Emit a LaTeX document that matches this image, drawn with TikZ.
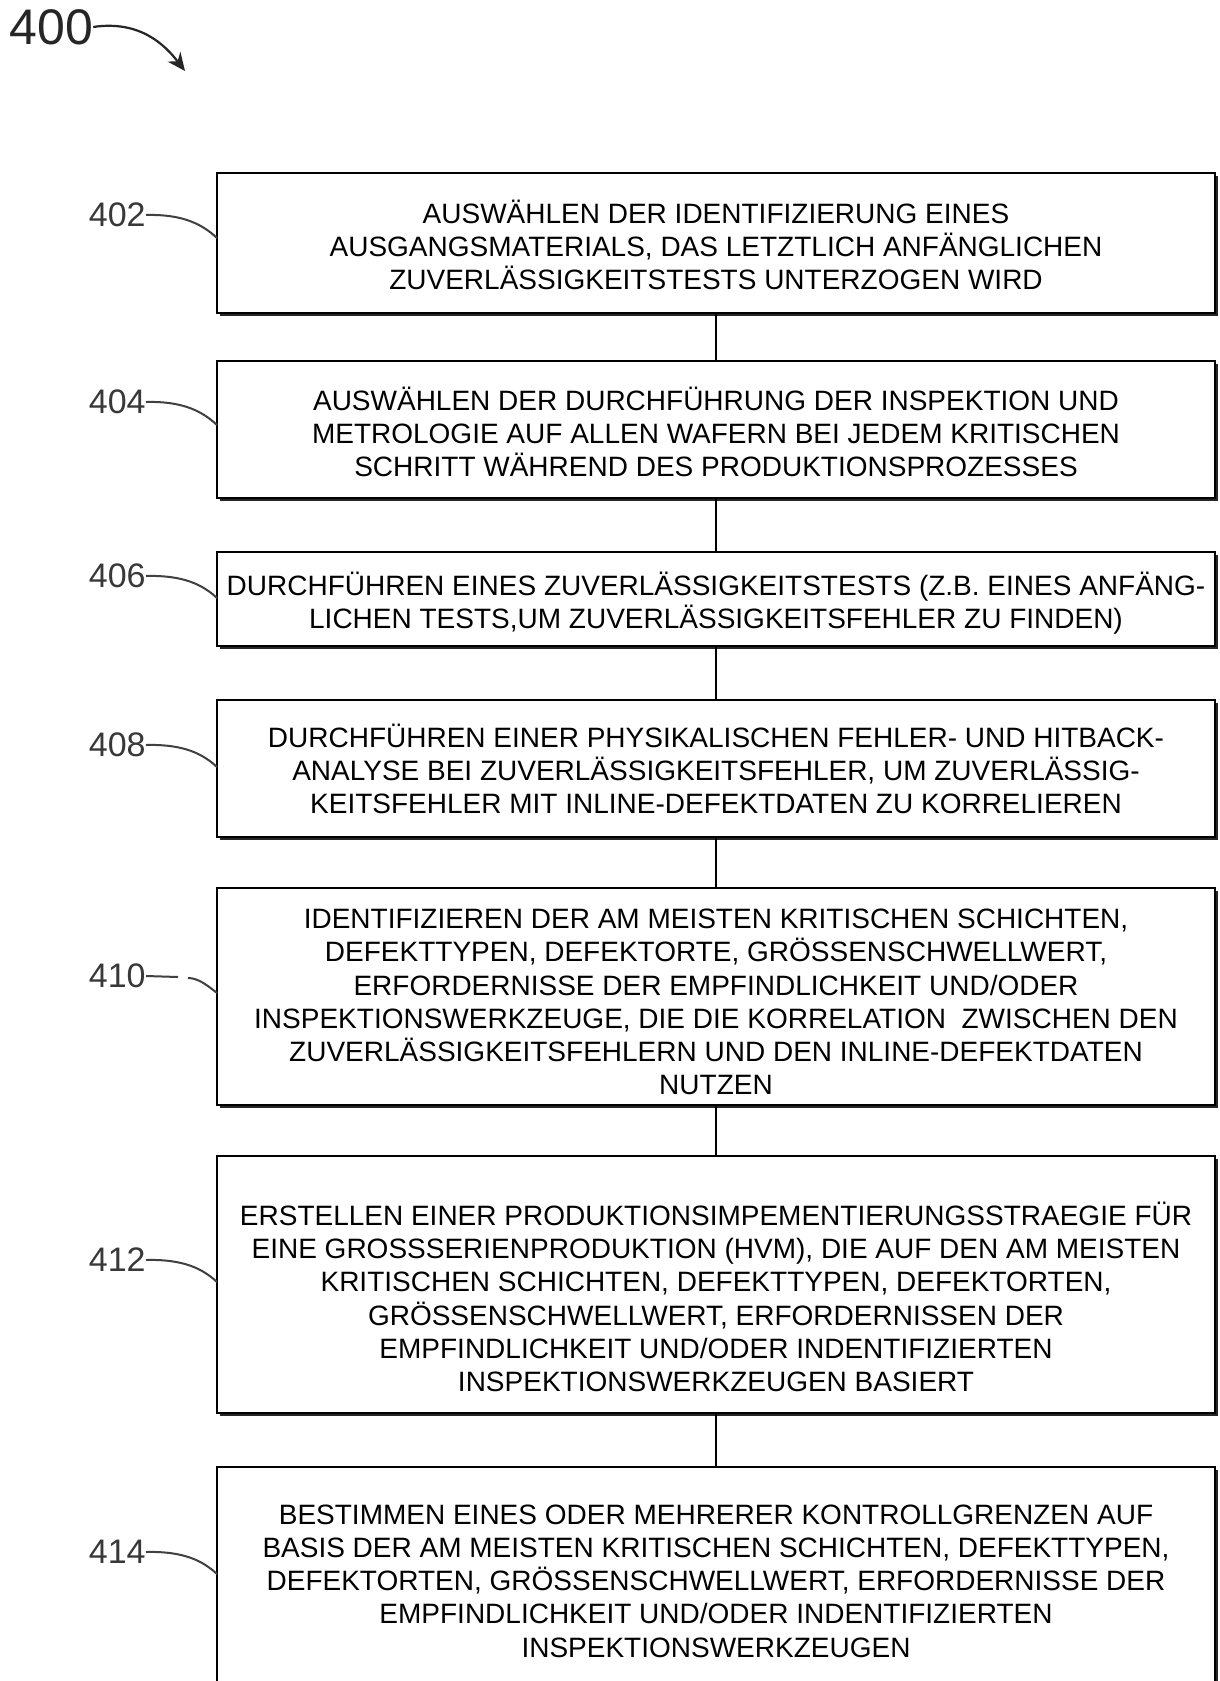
\documentclass[tikz,border=0pt]{standalone}
\usepackage{fontspec}
\setmainfont{Liberation Sans}
\usetikzlibrary{arrows.meta,shadows}
\begin{document}
\begin{tikzpicture}[x=0.5pt,y=-0.5pt,
  stepbox/.style={draw=black, line width=1.3pt, fill=white, rectangle, inner sep=0pt,
    minimum width=499pt,
    drop shadow={shadow xshift=1.6pt, shadow yshift=-1.6pt, opacity=0.85, fill=black}},
  steptext/.style={align=center, font=\fontsize{14pt}{16.6pt}\selectfont, inner sep=0pt},
  reflabel/.style={font=\fontsize{17pt}{19pt}\selectfont, text=black!78, anchor=east, inner sep=0pt},
  leader/.style={draw=black!75, line width=1pt},
  link/.style={draw=black, line width=1pt}]
\useasboundingbox (0,0) rectangle (1220,1681);
\clip (0,0) rectangle (1220,1681);
\fill[white] (0,0) rectangle (1220,1681);

% figure label
\node[font=\fontsize{25pt}{27pt}\selectfont, text=black!85, anchor=west, inner sep=0pt] (l400) at (9,27) {400};
\coordinate (e400) at (185,71);
\draw[draw=black!85, line width=1.1pt, -{Stealth[length=9pt,width=8pt]}] (l400.east) .. controls (140,20) and (165,45) .. (e400);

% boxes
\node[stepbox, minimum height=70pt]   (b402) at (716,243) {};
\node[stepbox, minimum height=68.5pt] (b404) at (716,429.5) {};
\node[stepbox, minimum height=47pt]   (b406) at (716,599) {};
\node[stepbox, minimum height=68.5pt] (b408) at (716,768.5) {};
\node[stepbox, minimum height=108.5pt] (b410) at (716,996.5) {};
\node[stepbox, minimum height=128.5pt] (b412) at (716,1284.5) {};
\node[stepbox, minimum height=156.5pt] (b414) at (716,1623.5) {};

% connectors
\draw[link] (b402.south) -- (b404.north);
\draw[link] (b404.south) -- (b406.north);
\draw[link] (b406.south) -- (b408.north);
\draw[link] (b408.south) -- (b410.north);
\draw[link] (b410.south) -- (b412.north);
\draw[link] (b412.south) -- (b414.north);

% texts
\node[steptext] (t402) at (716,245) {AUSWÄHLEN DER IDENTIFIZIERUNG EINES\\AUSGANGSMATERIALS, DAS LETZTLICH ANFÄNGLICHEN\\ZUVERLÄSSIGKEITSTESTS UNTERZOGEN WIRD};
\node[steptext] (t404) at (716,432) {AUSWÄHLEN DER DURCHFÜHRUNG DER INSPEKTION UND\\METROLOGIE AUF ALLEN WAFERN BEI JEDEM KRITISCHEN\\SCHRITT WÄHREND DES PRODUKTIONSPROZESSES};
\node[steptext] (t406) at (716,603) {DURCHFÜHREN EINES ZUVERLÄSSIGKEITSTESTS (Z.B. EINES ANFÄNG-\\LICHEN TESTS,UM ZUVERLÄSSIGKEITSFEHLER ZU FINDEN)};
\node[steptext] (t408) at (716,769) {DURCHFÜHREN EINER PHYSIKALISCHEN FEHLER- UND HITBACK-\\ANALYSE BEI ZUVERLÄSSIGKEITSFEHLER, UM ZUVERLÄSSIG-\\KEITSFEHLER MIT INLINE-DEFEKTDATEN ZU KORRELIEREN};
\node[steptext] (t410) at (716,1002) {IDENTIFIZIEREN DER AM MEISTEN KRITISCHEN SCHICHTEN,\\DEFEKTTYPEN, DEFEKTORTE, GRÖSSENSCHWELLWERT,\\ERFORDERNISSE DER EMPFINDLICHKEIT UND/ODER\\INSPEKTIONSWERKZEUGE, DIE DIE KORRELATION\ \ ZWISCHEN DEN\\ZUVERLÄSSIGKEITSFEHLERN UND DEN INLINE-DEFEKTDATEN\\NUTZEN};
\node[steptext] (t412) at (716,1297) {ERSTELLEN EINER PRODUKTIONSIMPEMENTIERUNGSSTRAEGIE FÜR\\EINE GROSSSERIENPRODUKTION (HVM), DIE AUF DEN AM MEISTEN\\KRITISCHEN SCHICHTEN, DEFEKTTYPEN, DEFEKTORTEN,\\GRÖSSENSCHWELLWERT, ERFORDERNISSEN DER\\EMPFINDLICHKEIT UND/ODER INDENTIFIZIERTEN\\INSPEKTIONSWERKZEUGEN BASIERT};
\node[steptext] (t414) at (716,1581) {BESTIMMEN EINES ODER MEHRERER KONTROLLGRENZEN AUF\\BASIS DER AM MEISTEN KRITISCHEN SCHICHTEN, DEFEKTTYPEN,\\DEFEKTORTEN, GRÖSSENSCHWELLWERT, ERFORDERNISSE DER\\EMPFINDLICHKEIT UND/ODER INDENTIFIZIERTEN\\INSPEKTIONSWERKZEUGEN};

% reference labels and leaders
\node[reflabel] (l402) at (146,215) {402};
\node[reflabel] (l404) at (146,402) {404};
\node[reflabel] (l406) at (146,576) {406};
\node[reflabel] (l408) at (146,745) {408};
\node[reflabel] (l410) at (146,976) {410};
\node[reflabel] (l412) at (146,1260) {412};
\node[reflabel] (l414) at (146,1552) {414};

\coordinate (e402) at (217,238);
\coordinate (e404) at (217,425);
\coordinate (e406) at (217,598);
\coordinate (e408) at (217,767);
\coordinate (e412) at (217,1282);
\coordinate (e414) at (217,1574);
\coordinate (g410a) at (178,977);
\coordinate (g410b) at (188,978);
\coordinate (e410) at (217,993);

\draw[leader] (l402.east) .. controls +(38,-1) and +(-14,-13) .. (e402);
\draw[leader] (l404.east) .. controls +(38,-1) and +(-14,-13) .. (e404);
\draw[leader] (l406.east) .. controls +(38,-1) and +(-14,-13) .. (e406);
\draw[leader] (l408.east) .. controls +(38,-1) and +(-14,-13) .. (e408);
\draw[leader] (l412.east) .. controls +(38,-1) and +(-14,-13) .. (e412);
\draw[leader] (l414.east) .. controls +(38,-1) and +(-14,-13) .. (e414);
\draw[leader] (l410.east) -- (g410a);
\draw[leader] (g410b) .. controls +(10,0) and +(-10,-8) .. (e410);
\end{tikzpicture}
\end{document}
